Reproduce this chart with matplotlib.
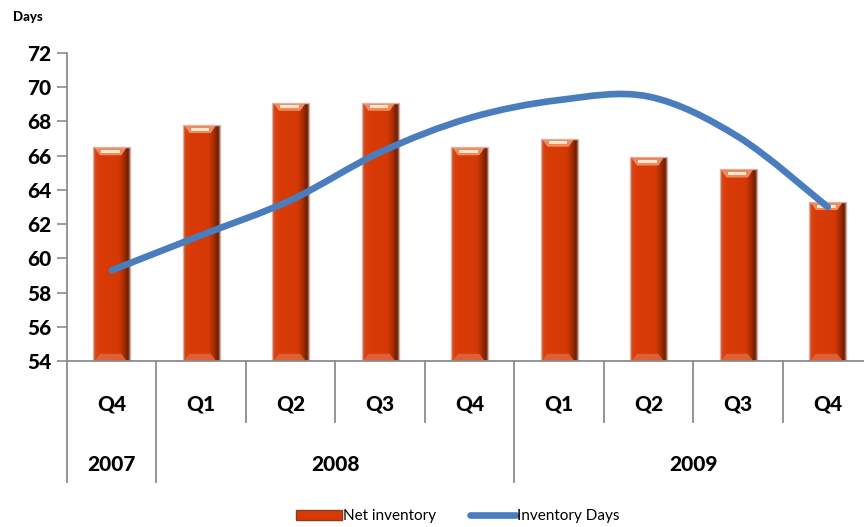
import numpy as np
import matplotlib
matplotlib.use("Agg")
import matplotlib.pyplot as plt
from matplotlib.path import Path
from matplotlib.patches import PathPatch, Rectangle, Patch, Polygon
from matplotlib.lines import Line2D
from matplotlib.transforms import blended_transform_factory
from matplotlib.colors import to_rgb

# ---- data ----
quarters = ["Q4", "Q1", "Q2", "Q3", "Q4", "Q1", "Q2", "Q3", "Q4"]
years = ["2007", "2008", "2009"]
year_spans = [(0, 1), (1, 5), (5, 9)]          # [start, end) quarter index per year
net_inventory = [66.5, 67.8, 69.1, 69.1, 66.5, 67.0, 65.9, 65.2, 63.3]
inventory_days = [59.3, 61.35, 63.4, 66.2, 68.2, 69.25, 69.45, 67.1, 63.0]
y_ticks = [54, 56, 58, 60, 62, 64, 66, 68, 70, 72]

plt.rcParams["font.family"] = ["Lato", "DejaVu Sans"]
BOLD = 900

fig = plt.figure(figsize=(8.64, 5.27), dpi=100)
ax = fig.add_axes([0.0775, 0.315, 0.9323, 0.5845])

n = len(quarters)
x = np.arange(n)
ymin, ymax = y_ticks[0], y_ticks[-1]
ax.set_xlim(-0.5, n - 0.5)
ax.set_ylim(ymin, ymax)

# ---- bevelled bars ----
bar_w = 0.41
bars = ax.bar(x, np.array(net_inventory) - ymin, bottom=ymin, width=bar_w,
              color="#D83A05", edgecolor="#D9B3A8", linewidth=1.0, zorder=2)

stops = [0.0, 0.08, 0.2, 0.7, 0.85, 0.95, 1.0]
cols = ["#C8643F", "#DC4210", "#DA3B06", "#D43905", "#A42C03", "#6E1E02", "#8A5A4A"]
rgb = np.array([to_rgb(c) for c in cols])
u = np.linspace(0, 1, 64)
grad = np.stack([np.interp(u, stops, rgb[:, k]) for k in range(3)], axis=-1)[None, :, :]

for b in bars:
    x0, y0 = b.get_x(), b.get_y()
    w, h = b.get_width(), b.get_height()
    im = ax.imshow(grad, extent=[x0, x0 + w, y0, y0 + h], aspect="auto",
                   interpolation="bilinear", zorder=2.1)
    im.set_clip_path(b)
    top = y0 + h
    # top cap bevel (trapezoid) with bright highlight
    ax.add_patch(Polygon([(x0 + w * 0.04, top - 0.05), (x0 + w * 0.90, top - 0.05),
                          (x0 + w * 0.76, top - 0.48), (x0 + w * 0.18, top - 0.48)],
                         closed=True, facecolor="#EE8A5C", edgecolor="none", zorder=2.2))
    ax.add_patch(Rectangle((x0 + w * 0.22, top - 0.34), w * 0.5, 0.18,
                           facecolor="#FFE6CC", edgecolor="none", zorder=2.3))
    # bottom bevel
    ax.add_patch(Polygon([(x0 + w * 0.04, y0 + 0.03), (x0 + w * 0.90, y0 + 0.03),
                          (x0 + w * 0.76, y0 + 0.42), (x0 + w * 0.18, y0 + 0.42)],
                         closed=True, facecolor="#E0693F", edgecolor="none", alpha=0.85,
                         zorder=2.2))
    b.set_zorder(2.4)
    b.set_facecolor("none")

# ---- smoothed line (cubic Bezier through the points) ----
pts = np.column_stack([x, inventory_days]).astype(float)
verts = [pts[0]]
codes = [Path.MOVETO]
for i in range(n - 1):
    p0 = pts[i - 1] if i > 0 else pts[i]
    p1, p2 = pts[i], pts[i + 1]
    p3 = pts[i + 2] if i + 2 < n else pts[i + 1]
    c1 = p1 + (p2 - p0) / 6.0
    c2 = p2 - (p3 - p1) / 6.0
    verts += [c1, c2, p2]
    codes += [Path.CURVE4] * 3
line_patch = PathPatch(Path(verts, codes), facecolor="none", edgecolor="#4A7DBD",
                       linewidth=4.8, capstyle="round", joinstyle="round", zorder=3)
ax.add_patch(line_patch)

# ---- axes styling ----
for s in ["top", "right"]:
    ax.spines[s].set_visible(False)
ax.spines["left"].set_color("#8C8C8C")
ax.spines["bottom"].set_color("#8C8C8C")
ax.spines["left"].set_linewidth(1.3)
ax.spines["bottom"].set_linewidth(1.3)
ax.set_yticks(y_ticks)
ax.set_yticklabels([str(t) for t in y_ticks], fontsize=15, fontweight=BOLD)
ax.tick_params(axis="y", direction="out", length=7, width=1.2, color="#8C8C8C", pad=4)
ax.set_xticks([])

ax.text(-0.067, 1.118, "Days", transform=ax.transAxes, fontsize=9.5,
        fontweight=BOLD, ha="left", va="center")

# ---- multi-level category axis ----
tr = blended_transform_factory(ax.transData, ax.transAxes)
y_q_sep, y_yr_sep = -0.198, -0.393
year_edges = {s for s, _ in year_spans} | {e for _, e in year_spans}
for k in range(n + 1):
    xb = k - 0.5
    bottom = y_yr_sep if k in year_edges else y_q_sep
    ax.add_line(Line2D([xb, xb], [0, bottom], transform=tr, color="#8C8C8C",
                       linewidth=1.3, clip_on=False))
for i, q in enumerate(quarters):
    ax.text(i, -0.14, q, transform=tr, ha="center", va="center",
            fontsize=15, fontweight=BOLD)
for yr, (s, e) in zip(years, year_spans):
    ax.text((s + e - 1) / 2, -0.335, yr, transform=tr, ha="center", va="center",
            fontsize=15, fontweight=BOLD)

# ---- legend ----
handles = [Patch(facecolor="#D83A05", edgecolor="#8A3A20", linewidth=1.0),
           Line2D([0], [0], color="#4A7DBD", linewidth=4.8, solid_capstyle="round")]
fig.legend(handles, ["Net inventory", "Inventory Days"], loc="center",
           bbox_to_anchor=(0.53, 0.02), ncol=2, frameon=False, fontsize=11,
           handlelength=3.0, handleheight=0.6, handletextpad=0.1, columnspacing=2.2)

fig.savefig("out.png", dpi=100)
